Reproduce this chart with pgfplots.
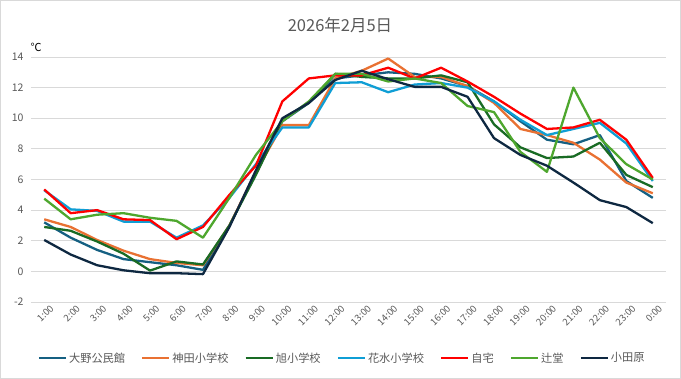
\documentclass[border=0pt]{standalone}
\usepackage{pgfplots}
\pgfplotsset{compat=1.18}
\usepackage{fontspec}
\setmainfont{Noto Sans CJK JP}
\definecolor{cA}{HTML}{156082}
\definecolor{cB}{HTML}{E97132}
\definecolor{cC}{HTML}{196B24}
\definecolor{cD}{HTML}{0F9ED5}
\definecolor{cE}{HTML}{FF0000}
\definecolor{cF}{HTML}{4EA72E}
\definecolor{cG}{HTML}{0E2841}
\definecolor{txt}{HTML}{595959}
\definecolor{gridc}{HTML}{D9D9D9}
\begin{document}
\begin{tikzpicture}
\useasboundingbox (0,0) rectangle (681bp,379bp);
\fill[white] (0,0) rectangle (681bp,379bp);
\draw[gridc, line width=0.8bp] (0.5bp,0.5bp) rectangle (680.5bp,378.5bp);
\node[text=txt, font=\fontsize{16.5bp}{18bp}\selectfont] at (340bp,354bp) {2026年2月5日};
\node[text=black, font=\fontsize{11bp}{12bp}\selectfont] at (36bp,332bp) {℃};
\begin{axis}[
  at={(31bp,77bp)}, anchor=south west,
  width=635bp, height=245bp, scale only axis,
  xmin=-0.5, xmax=23.5, ymin=-2, ymax=14,
  ytick={-2,0,2,4,6,8,10,12,14},
  xtick={0,...,23},
  xticklabels={1:00,2:00,3:00,4:00,5:00,6:00,7:00,8:00,9:00,10:00,11:00,12:00,13:00,14:00,15:00,16:00,17:00,18:00,19:00,20:00,21:00,22:00,23:00,0:00},
  axis line style={draw=none},
  major tick length=0pt,
  ymajorgrids, major grid style={draw=gridc, line width=0.8bp},
  /pgf/number format/assume math mode=true,
  yticklabel style={font=\fontsize{10.5bp}{12bp}\selectfont, text=txt, xshift=-4bp},
  xticklabel style={font=\fontsize{9.5bp}{10bp}\selectfont, text=txt, rotate=45, anchor=east, inner sep=0pt, yshift=-9bp, xshift=2bp},
  clip=false,
  legend columns=-1,
  legend style={at={(0.49,-0.229)}, anchor=center, draw=none, fill=none,
    font=\fontsize{11.2bp}{13bp}\selectfont, text=txt,
    /tikz/every even column/.append style={column sep=14bp},
    inner sep=0pt},
  legend image code/.code={\draw[#1, line width=2.4pt] (0bp,0bp) -- (27bp,0bp);},
  every axis plot/.append style={line width=2.3pt, line join=round, mark=none},
]
\addplot[cA] coordinates {(0,3.2)(1,2.2)(2,1.4)(3,0.8)(4,0.6)(5,0.4)(6,0.1)(7,3.0)(8,6.4)(9,9.8)(10,11.0)(11,12.6)(12,12.8)(13,13.0)(14,12.9)(15,12.6)(16,12.1)(17,11.1)(18,9.8)(19,8.6)(20,8.3)(21,8.9)(22,5.9)(23,4.8)};
\addlegendentry{大野公民館}
\addplot[cB] coordinates {(0,3.4)(1,2.9)(2,2.05)(3,1.35)(4,0.8)(5,0.55)(6,0.4)(7,3.0)(8,6.5)(9,9.55)(10,9.55)(11,12.6)(12,13.1)(13,13.9)(14,12.7)(15,12.7)(16,12.1)(17,11.0)(18,9.3)(19,8.9)(20,8.4)(21,7.3)(22,5.8)(23,5.1)};
\addlegendentry{神田小学校}
\addplot[cC] coordinates {(0,2.9)(1,2.65)(2,1.95)(3,1.15)(4,0.05)(5,0.65)(6,0.45)(7,3.0)(8,6.3)(9,9.9)(10,11.0)(11,12.9)(12,12.7)(13,12.6)(14,12.6)(15,12.8)(16,12.35)(17,9.6)(18,8.1)(19,7.4)(20,7.5)(21,8.4)(22,6.3)(23,5.5)};
\addlegendentry{旭小学校}
\addplot[cD] coordinates {(0,5.3)(1,4.05)(2,3.95)(3,3.25)(4,3.25)(5,2.2)(6,3.0)(7,4.8)(8,7.0)(9,9.4)(10,9.4)(11,12.3)(12,12.35)(13,11.7)(14,12.2)(15,12.3)(16,12.0)(17,11.1)(18,9.9)(19,8.9)(20,9.3)(21,9.7)(22,8.35)(23,5.9)};
\addlegendentry{花水小学校}
\addplot[cE] coordinates {(0,5.35)(1,3.8)(2,4.0)(3,3.4)(4,3.35)(5,2.1)(6,2.9)(7,5.0)(8,6.9)(9,11.1)(10,12.6)(11,12.8)(12,12.8)(13,13.3)(14,12.6)(15,13.3)(16,12.4)(17,11.4)(18,10.3)(19,9.3)(20,9.4)(21,9.9)(22,8.6)(23,6.1)};
\addlegendentry{自宅}
\addplot[cF] coordinates {(0,4.75)(1,3.4)(2,3.7)(3,3.8)(4,3.5)(5,3.3)(6,2.2)(7,4.8)(8,7.6)(9,9.8)(10,11.1)(11,12.9)(12,12.9)(13,12.4)(14,12.6)(15,12.3)(16,10.8)(17,10.4)(18,7.8)(19,6.5)(20,12.0)(21,8.7)(22,7.0)(23,6.0)};
\addlegendentry{辻堂}
\addplot[cG] coordinates {(0,2.05)(1,1.1)(2,0.4)(3,0.07)(4,-0.12)(5,-0.12)(6,-0.18)(7,2.9)(8,6.6)(9,10.0)(10,11.0)(11,12.5)(12,13.1)(13,12.55)(14,12.05)(15,12.05)(16,11.4)(17,8.7)(18,7.6)(19,6.9)(20,5.8)(21,4.65)(22,4.2)(23,3.15)};
\addlegendentry{小田原}
\end{axis}
\end{tikzpicture}
\end{document}
